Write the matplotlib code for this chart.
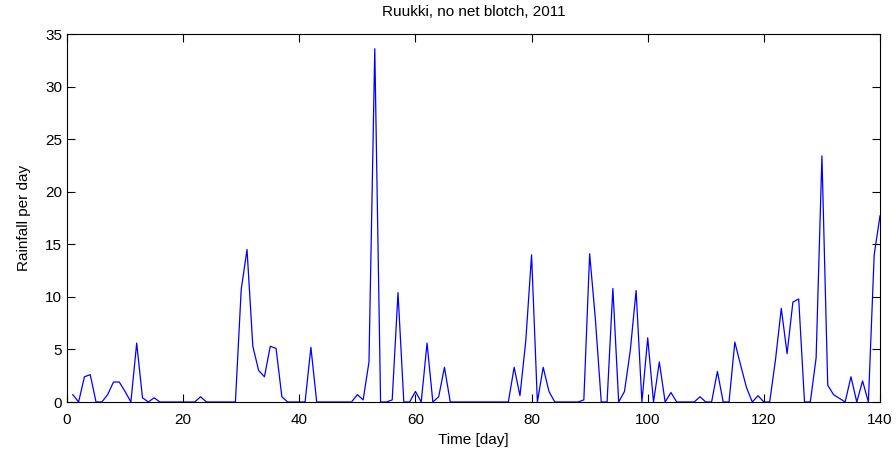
import numpy as np
import matplotlib
matplotlib.use('Agg')
import matplotlib.pyplot as plt

plt.rcParams['font.family'] = ['Liberation Sans', 'DejaVu Sans']

# Дневные осадки, дни 1..140
rain = [0.7, 0, 2.4, 2.6, 0, 0, 0.7, 1.9, 1.9, 1.0,
        0, 5.6, 0.4, 0, 0.4, 0, 0, 0, 0, 0,
        0, 0, 0.5, 0, 0, 0, 0, 0, 0, 10.7,
        14.5, 5.3, 3.0, 2.4, 5.3, 5.1, 0.5, 0, 0, 0,
        0, 5.2, 0, 0, 0, 0, 0, 0, 0, 0.7,
        0.2, 3.8, 33.6, 0, 0, 0.2, 10.4, 0, 0, 1.0,
        0, 5.6, 0, 0.5, 3.3, 0, 0, 0, 0, 0,
        0, 0, 0, 0, 0, 0, 3.3, 0.6, 5.8, 14.0,
        0, 3.3, 1.0, 0, 0, 0, 0, 0, 0.2, 14.1,
        7.8, 0, 0, 10.8, 0, 1.0, 4.9, 10.6, 0, 6.1,
        0, 3.8, 0, 0.9, 0, 0, 0, 0, 0.5, 0,
        0, 2.9, 0, 0, 5.7, 3.5, 1.4, 0, 0.6, 0,
        0, 4.0, 8.9, 4.6, 9.5, 9.8, 0, 0, 4.2, 23.4,
        1.6, 0.7, 0.35, 0, 2.4, 0, 2.0, 0, 14.0, 17.7]
days = np.arange(1, len(rain) + 1)

x_ticks = [0, 20, 40, 60, 80, 100, 120, 140]
y_ticks = [0, 5, 10, 15, 20, 25, 30, 35]

fig = plt.figure(figsize=(8.96, 4.53), dpi=100)
ax = fig.add_axes([67/896, 1 - 402/453, (880 - 67)/896, (402 - 34)/453])
ax.plot(days, rain, color='#0000ff', linewidth=0.9)
ax.set_xlim(0, 140)
ax.set_ylim(0, 35)
ax.set_xticks(x_ticks)
ax.set_yticks(y_ticks)
ax.tick_params(direction='in', top=True, right=True, length=6, width=0.8,
               labelsize=11)
ax.tick_params(axis='x', pad=8)
for s in ax.spines.values():
    s.set_linewidth(0.8)
ax.set_xlabel('Time [day]', fontsize=11, labelpad=4)
ax.set_ylabel('Rainfall per day', fontsize=11, labelpad=10)
ax.set_title('Ruukki, no net blotch, 2011', fontsize=11, pad=13)

fig.savefig('out.png', dpi=100)
